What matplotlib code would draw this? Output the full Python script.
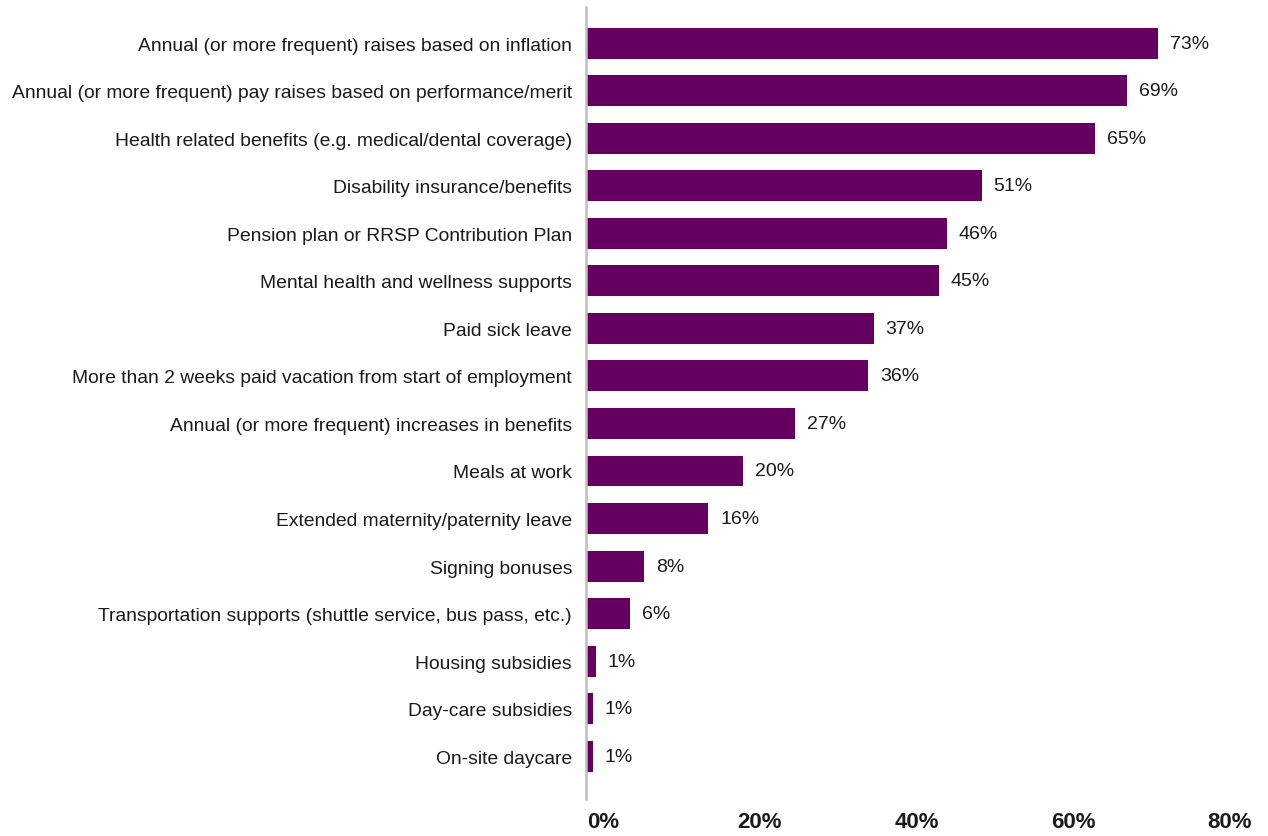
import matplotlib
matplotlib.use("Agg")
import matplotlib.pyplot as plt
import matplotlib.transforms as mtransforms

categories = [
    "Annual (or more frequent) raises based on inflation",
    "Annual (or more frequent) pay raises based on performance/merit",
    "Health related benefits (e.g. medical/dental coverage)",
    "Disability insurance/benefits",
    "Pension plan or RRSP Contribution Plan",
    "Mental health and wellness supports",
    "Paid sick leave",
    "More than 2 weeks paid vacation from start of employment",
    "Annual (or more frequent) increases in benefits",
    "Meals at work",
    "Extended maternity/paternity leave",
    "Signing bonuses",
    "Transportation supports (shuttle service, bus pass, etc.)",
    "Housing subsidies",
    "Day-care subsidies",
    "On-site daycare",
]
values = [73, 69, 65, 50.5, 46, 45, 36.7, 36, 26.7, 20, 15.6, 7.4, 5.6, 1.3, 0.9, 0.9]
value_labels = ["73%", "69%", "65%", "51%", "46%", "45%", "37%", "36%", "27%",
                "20%", "16%", "8%", "6%", "1%", "1%", "1%"]
x_ticks = [0, 20, 40, 60, 80]
x_tick_labels = ["0%", "20%", "40%", "60%", "80%"]

BAR_COLOR = "#660060"
TEXT_COLOR = "#1a1a1a"
W, H = 1268, 837

fig = plt.figure(figsize=(W / 100, H / 100), dpi=100)
ax = fig.add_axes([586 / W, 1 - 800 / H, (1213 - 586) / W, (800 - 8) / H])

y = list(range(len(categories)))
ax.barh(y, values, height=0.65, color=BAR_COLOR)
ax.set_xlim(0, 80)
ax.set_ylim(15.9, -0.76)

for yi, v, lab in zip(y, values, value_labels):
    ax.annotate(lab, (v, yi), xytext=(8.5, 0), textcoords="offset points",
                va="center", ha="left", fontsize=14, family="Liberation Sans",
                color=TEXT_COLOR)

ax.set_yticks(y)
ax.set_yticklabels(categories, fontsize=13.9, family="Liberation Sans",
                   color=TEXT_COLOR)
ax.tick_params(axis="y", length=0, pad=10)

ax.set_xticks(x_ticks)
ax.set_xticklabels(x_tick_labels, fontsize=16, fontweight="bold",
                   family="Liberation Sans", color=TEXT_COLOR)
ax.tick_params(axis="x", length=0, pad=9)
offset = mtransforms.ScaledTranslation(17 / 100, 0, fig.dpi_scale_trans)
for lbl in ax.get_xticklabels():
    lbl.set_transform(lbl.get_transform() + offset)

for s in ["top", "right", "bottom"]:
    ax.spines[s].set_visible(False)
ax.spines["left"].set_color("#bfbfbf")
ax.spines["left"].set_linewidth(1.8)

fig.savefig("out.png", dpi=100)
